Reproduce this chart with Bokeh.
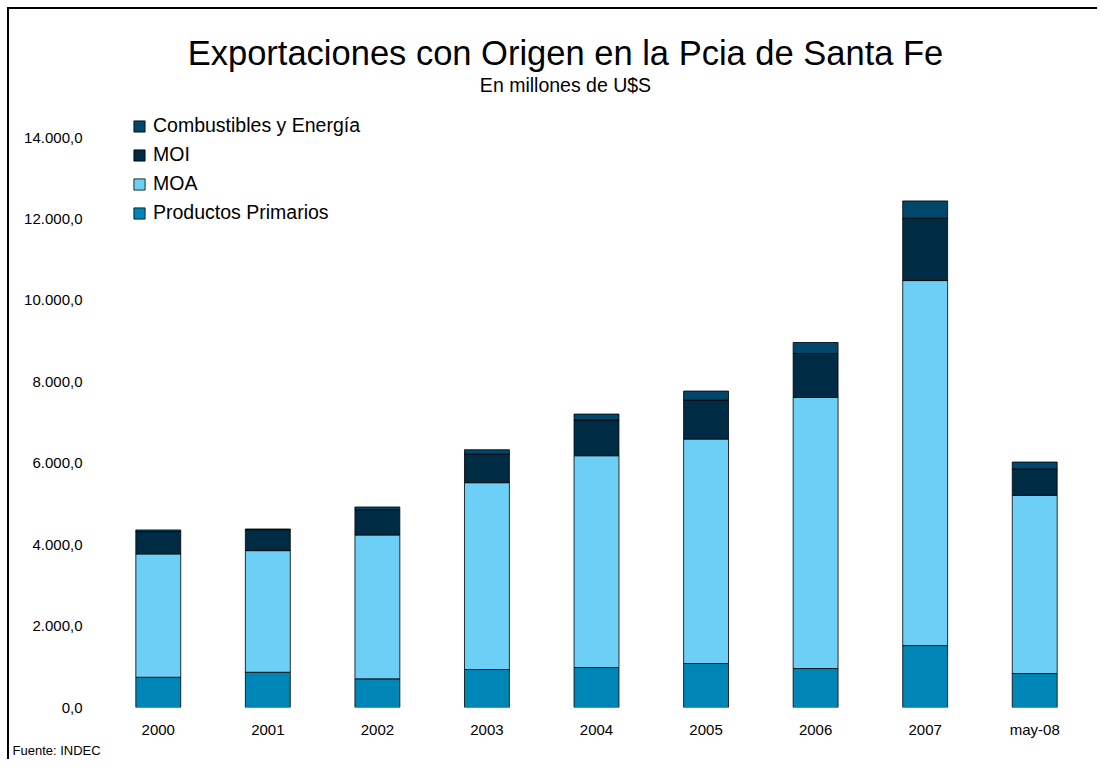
from bokeh.plotting import figure
from bokeh.models import (FactorRange, Range1d, FixedTicker, Legend, LegendItem, Title, Label)
from bokeh.embed import file_html
from bokeh.resources import INLINE

categories = ["2000", "2001", "2002", "2003", "2004", "2005", "2006", "2007", "may-08"]
productos_primarios = [743, 866, 704, 933, 982, 1080, 957, 1521, 834]
moa = [3029, 2987, 3534, 4589, 5202, 5514, 6658, 8965, 4376]
moi = [547, 515, 621, 704, 876, 957, 1080, 1531, 648]
combustibles = [42, 17, 66, 105, 147, 221, 270, 425, 171]

series_names = ["Productos Primarios", "MOA", "MOI", "Combustibles y Energía"]
series_keys = ["pp", "moa", "moi", "ce"]
series_colors = ["#0085B7", "#6DCFF6", "#002B45", "#00476B"]

tick_values = [0, 2000, 4000, 6000, 8000, 10000, 12000, 14000]
tick_labels = ["0,0", "2.000,0", "4.000,0", "6.000,0", "8.000,0", "10.000,0", "12.000,0", "14.000,0"]

title_text = "Exportaciones con Origen en la Pcia de Santa Fe"
subtitle_text = "En millones de U$S"
source_text = "Fuente: INDEC"

FONT = "Liberation Sans"

data = dict(cat=categories, pp=productos_primarios, moa=moa, moi=moi, ce=combustibles)

p = figure(x_range=FactorRange(*categories, range_padding=0),
           y_range=Range1d(0, 16874),
           width=1090, height=752,
           output_backend="svg", toolbar_location=None,
           min_border_left=94, min_border_right=10, min_border_top=11, min_border_bottom=54,
           styles={"border-left": "2px solid black", "border-top": "2px solid black",
                   "margin-left": "7px", "margin-top": "7px"})

renderers = p.vbar_stack(series_keys, x="cat", width=0.41, source=data,
                         color=series_colors, line_color="black", line_width=1, line_alpha=0.8)

p.xgrid.visible = False
p.ygrid.visible = False
p.outline_line_color = None

p.yaxis.ticker = FixedTicker(ticks=tick_values)
p.yaxis.major_label_overrides = {v: l for v, l in zip(tick_values, tick_labels)}
p.yaxis.minor_tick_line_color = None
p.yaxis.major_tick_line_color = None
p.yaxis.axis_line_color = None
p.yaxis.major_label_standoff = 15
p.yaxis.major_label_text_font = FONT
p.yaxis.major_label_text_font_size = "15px"
p.yaxis.major_label_text_color = "black"

p.xaxis.major_tick_line_color = None
p.xaxis.minor_tick_line_color = None
p.xaxis.axis_line_color = None
p.xaxis.major_label_standoff = 7
p.xaxis.major_label_text_font = FONT
p.xaxis.major_label_text_font_size = "15px"
p.xaxis.major_label_text_color = "black"

items = [LegendItem(label=series_names[i], renderers=[renderers[i]]) for i in [3, 2, 1, 0]]
legend = Legend(items=items, location=(29, 483), border_line_color=None,
                background_fill_alpha=0, padding=0, margin=0, spacing=6,
                glyph_width=14, glyph_height=14, label_height=20, label_standoff=7,
                label_text_font=FONT, label_text_font_size="19.5px", label_text_color="black")
p.add_layout(legend, "center")

p.add_layout(Label(x=4.217, y=16088, text=title_text, text_align="center", text_baseline="middle",
                   text_font=FONT, text_font_size="34.5px", text_color="black"))
p.add_layout(Label(x=4.217, y=15302, text=subtitle_text, text_align="center", text_baseline="middle",
                   text_font=FONT, text_font_size="19.5px", text_color="black"))
p.add_layout(Title(text=source_text, align="left", offset=-91, standoff=0,
                   text_font=FONT, text_font_size="13px", text_font_style="normal",
                   text_color="black"), "below")

open("out.html", "w").write(file_html(p, INLINE))
